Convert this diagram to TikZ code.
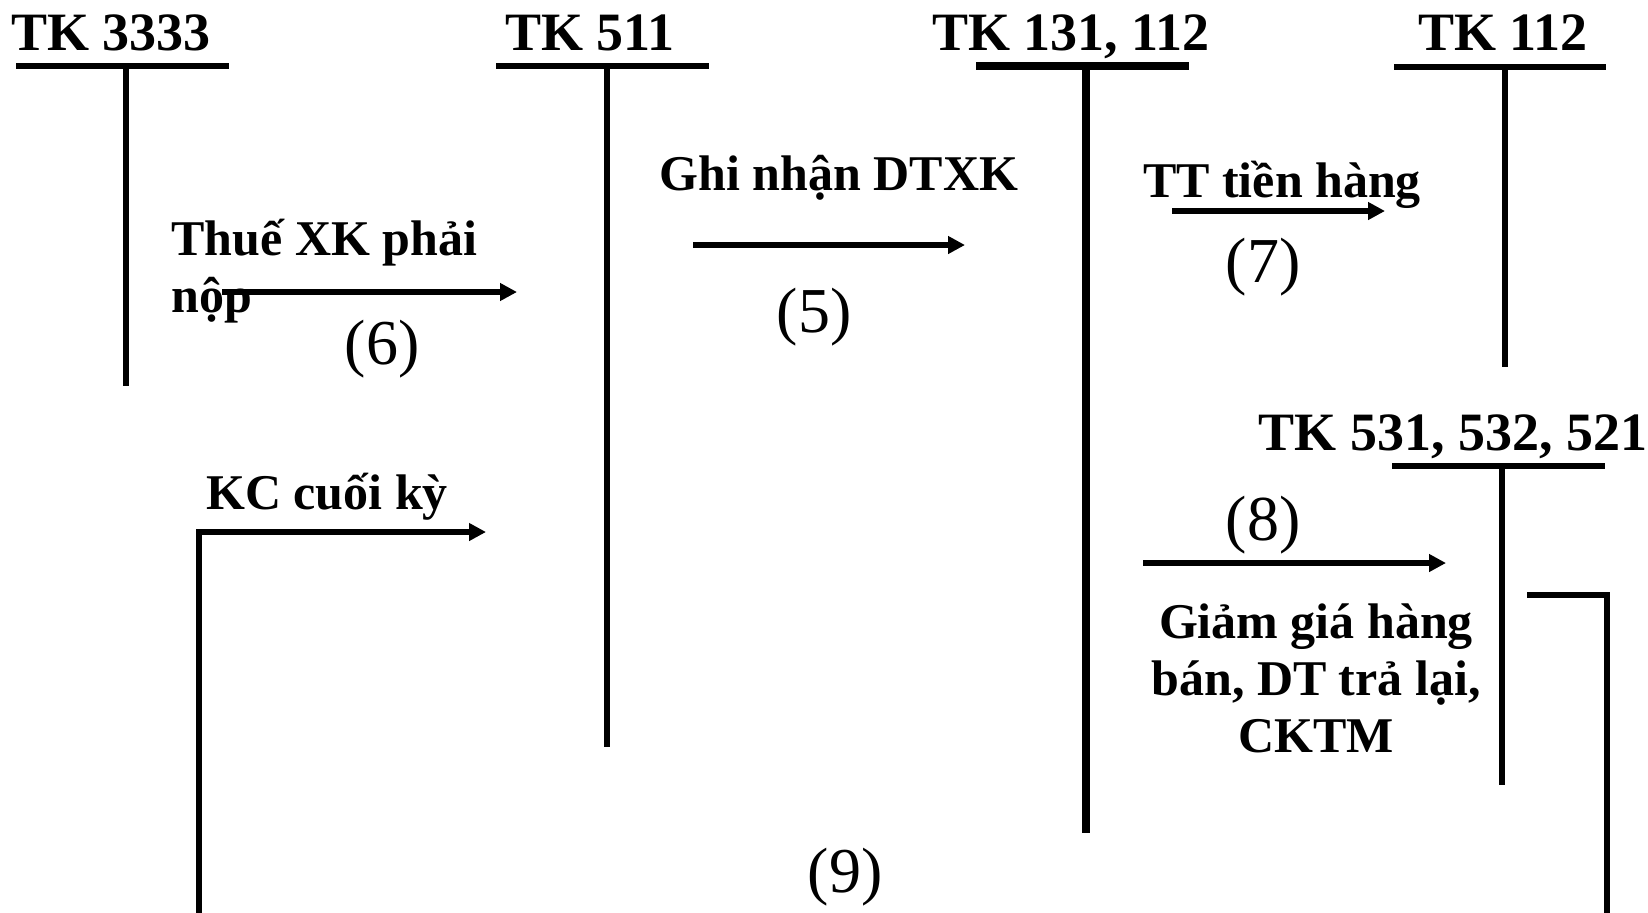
\documentclass[tikz,border=0pt]{standalone}
\usepackage{fontspec}
\setmainfont{Liberation Serif}
\usetikzlibrary{arrows.meta}

\begin{document}
\begin{tikzpicture}[
  x=0.5pt, y=-0.5pt,
  >={Triangle[length=8.5pt,width=8.5pt]},
  tbar/.style={line width=3pt},
  tbarthick/.style={line width=4.2pt},
  flowarrow/.style={->, line width=2.6pt},
  acctitle/.style={font=\bfseries\fontsize{27}{30}\selectfont, inner sep=0pt, anchor=base},
  memo/.style={font=\bfseries\fontsize{25}{28.5}\selectfont, inner sep=0pt},
  stepno/.style={font=\fontsize{32}{36}\selectfont, inner sep=0pt}
]

  \useasboundingbox[fill=white] (0,0) rectangle (1648,912);

  % -------------------------------------------------------------
  % T ACCOUNTS
  % -------------------------------------------------------------
  \node[acctitle] (t3333) at (111,50) {TK 3333};
  \draw[tbar] (16,66) -- (229,66) (126,66) -- (126,386);

  \node[acctitle] (t511) at (590,50) {TK 511};
  \draw[tbar] (496,66) -- (709,66) (607,66) -- (607,747);

  \node[acctitle] (t131) at (1071,50) {TK 131, 112};
  \draw[tbarthick] (976,66) -- (1189,66) (1086,66) -- (1086,833);

  \node[acctitle] (t112) at (1503,50) {TK 112};
  \draw[tbar] (1394,67) -- (1606,67) (1505,67) -- (1505,367);

  \node[acctitle] (t531) at (1453,450) {TK 531, 532, 521};
  \draw[tbar] (1392,466) -- (1605,466) (1502,466) -- (1502,785);

  % -------------------------------------------------------------
  % ENTRIES (5) -- (8)
  % -------------------------------------------------------------
  % (6) export duty
  \coordinate (e6a) at (222,292);
  \coordinate (e6b) at (517,292);
  \draw[flowarrow] (e6a) -- (e6b);
  \node[memo, align=left, anchor=base west] (m6) at (171,312) {Thuế XK phải\\nộp};
  \node[stepno] (n6) at (382,349) {(6)};

  % (5) export revenue
  \coordinate (e5a) at (693,245);
  \coordinate (e5b) at (965,245);
  \draw[flowarrow] (e5a) -- (e5b);
  \node[memo, anchor=base] (m5) at (839,190) {Ghi nhận DTXK};
  \node[stepno] (n5) at (814,317) {(5)};

  % (7) payment received
  \coordinate (e7a) at (1172,211);
  \coordinate (e7b) at (1385,211);
  \draw[flowarrow] (e7a) -- (e7b);
  \node[memo, anchor=base] (m7) at (1282,197) {TT tiền hàng};
  \node[stepno] (n7) at (1263,267) {(7)};

  % (8) revenue deductions
  \coordinate (e8a) at (1143,563);
  \coordinate (e8b) at (1446,563);
  \draw[flowarrow] (e8a) -- (e8b);
  \node[stepno] (n8) at (1263,525) {(8)};
  \node[memo, align=center, anchor=base] (m8) at (1316,752) {Giảm giá hàng\\bán, DT trả lại,\\CKTM};

  % -------------------------------------------------------------
  % (9) CLOSING ENTRY, LOOPS BELOW THE PAGE
  % -------------------------------------------------------------
  \coordinate (e9a) at (1527,595);
  \coordinate (e9b) at (486,532);
  \draw[flowarrow] (e9a) -- (1607,595) -- (1607,960) -- (199,960) -- (199,532) -- (e9b);
  \node[memo, anchor=base] (m9) at (327,509) {KC cuối kỳ};
  \node[stepno] (n9) at (845,877) {(9)};

\end{tikzpicture}
\end{document}
